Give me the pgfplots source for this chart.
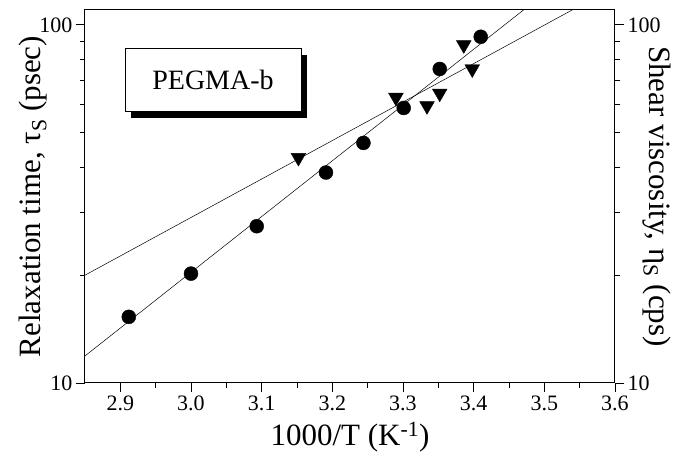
\documentclass[border=0pt]{standalone}
\usepackage{fontspec}
\setmainfont{Liberation Serif}
\usepackage{pgfplots}
\pgfplotsset{compat=1.18}
\usetikzlibrary{shadows}

\pgfplotsset{
  mybase/.style={
    scale only axis, width=530bp, height=373bp,
    xmin=2.85, xmax=3.6, ymin=10, ymax=110,
    ytick={10,100}, yticklabels={10,100},
    minor ytick={20,30,40,50,60,70,80,90},
    tick align=outside,
    major tick length=9bp, minor tick length=5bp,
    every tick/.style={black, line width=0.8bp},
    axis line style={line width=1bp},
    tick label style={font=\fontsize{22bp}{24bp}\selectfont},
    label style={font=\fontsize{31bp}{33bp}\selectfont},
    /pgf/number format/assume math mode=true,
  }
}

\begin{document}
\begin{tikzpicture}
\path[use as bounding box] (-85bp,-82bp) rectangle (589bp,383bp);
\begin{axis}[
  ymode=log,
  mybase,
  xtick={2.9,3.0,3.1,3.2,3.3,3.4,3.5,3.6},
  minor x tick num=1,
  xtick pos=bottom, ytick pos=left,
  xticklabel style={/pgf/number format/.cd, fixed, fixed zerofill, precision=1},
  xlabel={1000/T (K\textsuperscript{-1})},
  xlabel style={at={(axis description cs:0.5,-0.145)}, anchor=center},
  ylabel={Relaxation time, τ\textsubscript{S} (psec)},
  ylabel style={at={(axis description cs:-0.098,0.5)}, anchor=center, rotate=0},
]
% fitted lines
\addplot[black, line width=0.5bp] coordinates {(2.85,11.9) (3.6,175)};
\addplot[black, line width=0.5bp] coordinates {(2.85,20.0) (3.6,127.8)};
% relaxation time (circles)
\addplot[only marks, mark=*, mark size=7bp, black] coordinates {
  (2.912,15.3) (3.000,20.2) (3.093,27.4) (3.191,38.7)
  (3.244,46.8) (3.301,58.6) (3.352,75.3) (3.410,92.6)
};
% shear viscosity (down triangles)
\addplot[only marks, mark=triangle*, mark size=8.5bp, black, mark options={rotate=180}] coordinates {
  (3.152,42.6) (3.290,62.7) (3.334,59.4) (3.352,64.4) (3.386,87.9) (3.398,75.3)
};
\node[draw=black, line width=0.6bp, fill=white, minimum width=176bp, minimum height=63bp,
  drop shadow={shadow xshift=6bp, shadow yshift=-7bp, fill=black, opacity=1},
  font=\fontsize{28bp}{30bp}\selectfont] at (rel axis cs:0.2415,0.8135) {PEGMA-b};
\end{axis}
\begin{axis}[
  ymode=log,
  mybase,
  axis x line=none, axis y line*=right,
  ylabel={Shear viscosity, η\textsubscript{S} (cps)},
  ylabel style={at={(axis description cs:1.079,0.5)}, anchor=center, rotate=180},
]
\addplot[draw=none] coordinates {(3.0,20)};
\end{axis}
\end{tikzpicture}
\end{document}
